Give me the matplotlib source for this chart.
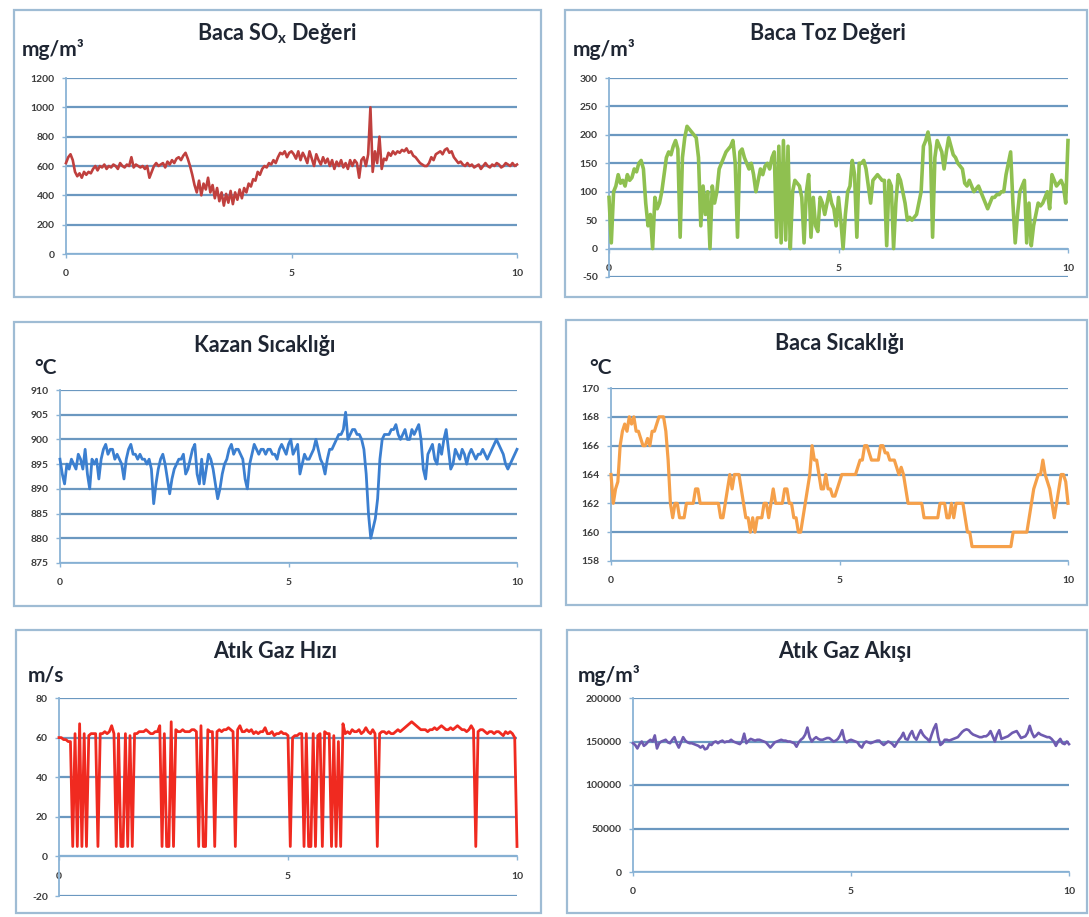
import numpy as np
import matplotlib
matplotlib.use("Agg")
import matplotlib.pyplot as plt
from matplotlib.patches import Rectangle

plt.rcParams["font.family"] = ["Lato", "DejaVu Sans"]
plt.rcParams["axes.unicode_minus"] = False
plt.rcParams["mathtext.fontset"] = "custom"
plt.rcParams["mathtext.bf"] = "Lato:bold"
plt.rcParams["mathtext.rm"] = "Lato"

# --- data (one value every 0.05 on the 0..10 axis) ---
sox_values = [
    620, 660, 680, 640, 560, 530, 550, 520, 560, 540, 560, 550, 580, 600, 570, 600, 590, 610, 580, 600,
    590, 610, 600, 580, 620, 600, 590, 610, 600, 660, 590, 610, 600, 590, 600, 580, 600, 520, 560, 600,
    620, 600, 610, 620, 590, 630, 610, 640, 620, 650, 660, 640, 670, 690, 650, 600, 540, 470, 420, 500,
    400, 480, 440, 520, 420, 470, 380, 450, 360, 420, 330, 410, 350, 430, 340, 420, 370, 440, 380, 450,
    420, 480, 460, 510, 500, 560, 540, 580, 600, 590, 620, 610, 640, 620, 660, 690, 680, 700, 660, 690,
    700, 680, 650, 700, 640, 690, 660, 620, 700, 650, 600, 680, 640, 610, 660, 620, 650, 600, 640, 580,
    630, 600, 640, 590, 620, 580, 640, 600, 640, 620, 520, 640, 660, 600, 680, 1000, 560, 700, 620, 800,
    580, 650, 640, 690, 670, 700, 680, 700, 690, 710, 700, 720, 690, 700, 670, 660, 640, 620, 610, 600,
    600, 620, 660, 640, 680, 690, 700, 680, 710, 720, 690, 700, 660, 640, 620, 630, 610, 600, 620, 600,
    610, 590, 600, 610, 580, 600, 620, 600, 590, 610, 600, 620, 610, 590, 600, 620, 610, 600, 620, 600,
    610,
]

toz_values = [
    90, 10, 100, 110, 130, 115, 120, 110, 130, 120, 125, 140, 135, 150, 155, 140, 80, 40, 60, 0,
    90, 70, 80, 100, 130, 160, 170, 165, 180, 190, 175, 20, 160, 195, 215, 210, 205, 200, 195, 160,
    40, 110, 60, 100, 0, 110, 80, 100, 140, 150, 160, 170, 175, 180, 190, 150, 20, 170, 175, 160,
    150, 140, 150, 130, 100, 120, 140, 130, 145, 150, 140, 160, 170, 20, 180, 10, 190, 15, 180, 0,
    100, 120, 115, 110, 90, 10, 100, 130, 20, 90, 40, 30, 90, 80, 60, 80, 100, 80, 70, 40,
    90, 50, 0, 60, 100, 110, 155, 130, 20, 150, 150, 155, 140, 110, 80, 120, 125, 130, 125, 120,
    120, 5, 120, 110, 0, 80, 130, 120, 100, 80, 50, 55, 50, 55, 60, 80, 100, 180, 190, 205,
    180, 20, 160, 190, 180, 170, 140, 170, 195, 180, 165, 160, 150, 145, 140, 115, 110, 120, 110, 100,
    105, 110, 100, 90, 80, 70, 80, 90, 90, 95, 95, 100, 100, 130, 150, 170, 80, 10, 60, 100,
    110, 120, 10, 80, 5, 40, 60, 80, 75, 80, 90, 100, 70, 130, 120, 110, 115, 120, 110, 80,
    190,
]

kazan_values = [
    896, 893, 891, 895, 894, 896, 895, 894, 897, 896, 894, 898, 893, 890, 896, 895, 896, 892, 896, 898,
    899, 897, 898, 898, 896, 897, 896, 895, 892, 896, 898, 899, 897, 897, 896, 897, 896, 896, 895, 896,
    894, 887, 891, 894, 896, 897, 895, 892, 889, 892, 894, 895, 896, 896, 897, 893, 894, 896, 898, 899,
    893, 891, 896, 891, 894, 897, 896, 894, 891, 888, 890, 893, 895, 896, 898, 899, 897, 898, 898, 897,
    896, 892, 890, 895, 897, 899, 898, 897, 898, 898, 897, 898, 898, 897, 897, 896, 898, 899, 898, 897,
    899, 900, 897, 898, 899, 893, 895, 897, 896, 896, 897, 898, 900, 898, 896, 895, 893, 896, 898, 898,
    899, 900, 901, 901, 902, 905.5, 900, 901, 902, 902, 901, 901, 900, 898, 893, 885, 880, 882, 884, 888,
    896, 900, 901, 901, 901, 902, 902, 903, 901, 900, 901, 902, 900, 900, 902, 901, 902, 903, 900, 894,
    892, 897, 898, 899, 896, 895, 899, 897, 900, 902, 898, 894, 895, 898, 897, 896, 898, 897, 895, 897,
    898, 897, 896, 897, 897, 898, 897, 896, 897, 898, 899, 900, 899, 898, 897, 895, 894, 895, 896, 897,
    898,
]

baca_sicaklik_values = [
    164, 162, 163, 163.5, 166, 167, 167.5, 167, 168, 167.5, 168, 167, 167, 166.5, 166, 166, 166.5, 166, 167, 167,
    167.5, 168, 168, 168, 167, 165, 162, 161, 162, 162, 161, 161, 161, 162, 162, 162, 162, 163, 163, 162,
    162, 162, 162, 162, 162, 162, 162, 162, 161, 161, 162, 163, 164, 163, 164, 164, 164, 163, 162, 161,
    161, 160, 161, 160, 161, 161, 161, 162, 162, 161, 162, 163, 162, 162, 162, 162, 163, 163, 162, 162,
    161, 161, 160, 160, 161, 162, 163, 164, 166, 165, 165, 164, 163, 163, 164, 163, 163, 162.5, 162.5, 163,
    163.5, 164, 164, 164, 164, 164, 164, 164, 164.5, 165, 165, 166, 166, 165.5, 165, 165, 165, 165, 166, 166,
    165.5, 165.5, 165, 165, 165, 164.5, 164, 164.5, 164, 163, 162, 162, 162, 162, 162, 162, 162, 161, 161, 161,
    161, 161, 161, 161, 162, 162, 162, 161, 161, 162, 161, 162, 162, 162, 162, 161, 160, 160, 159, 159,
    159, 159, 159, 159, 159, 159, 159, 159, 159, 159, 159, 159, 159, 159, 159, 159, 160, 160, 160, 160,
    160, 160, 160, 161, 162, 163, 163.5, 164, 164, 165, 164, 163.5, 163, 162, 161, 162, 163, 164, 164, 163.5,
    162,
]

gaz_hiz_values = [
    60, 60, 59, 59, 58, 58, 5, 62, 5, 67, 5, 62, 5, 61, 62, 62, 62, 5, 62, 62,
    63, 62, 63, 66, 62, 5, 62, 5, 5, 62, 5, 61, 5, 62, 62, 63, 63, 63, 64, 63,
    62, 62, 63, 63, 66, 5, 62, 5, 5, 68, 5, 64, 63, 63, 64, 63, 63, 63, 64, 64,
    63, 5, 66, 5, 5, 64, 63, 63, 5, 63, 64, 63, 64, 64, 65, 64, 63, 5, 64, 66,
    63, 63, 64, 63, 64, 62, 63, 62, 63, 63, 65, 62, 62, 63, 61, 62, 62, 63, 62, 62,
    61, 5, 60, 61, 61, 62, 62, 5, 62, 5, 5, 62, 5, 61, 62, 5, 63, 62, 62, 5,
    61, 5, 58, 5, 67, 62, 63, 62, 64, 63, 63, 64, 62, 63, 65, 63, 62, 64, 62, 5,
    62, 63, 63, 62, 63, 62, 62, 63, 64, 63, 64, 65, 66, 67, 68, 67, 66, 65, 64, 64,
    64, 63, 64, 64, 65, 64, 65, 66, 65, 64, 64, 65, 64, 65, 66, 65, 64, 64, 63, 64,
    66, 64, 5, 63, 64, 64, 63, 62, 63, 63, 62, 63, 63, 62, 61, 63, 62, 63, 62, 60,
    5,
]

gaz_akis_values = [
    148000, 146000, 142000, 147000, 150000, 145000, 147000, 150000, 152000, 150000,
    157000, 142000, 148000, 150000, 151000, 152000, 149000, 148000, 152000, 155000,
    148000, 143000, 149000, 155000, 151000, 149000, 148000, 148000, 147000, 146000,
    145000, 143000, 145000, 141000, 142000, 147000, 146000, 149000, 150000, 148000,
    150000, 151000, 149000, 150000, 150000, 152000, 150000, 149000, 148000, 147000,
    150000, 159000, 148000, 151000, 153000, 152000, 151000, 152000, 152000, 151000,
    150000, 149000, 146000, 143000, 146000, 149000, 150000, 151000, 152000, 151000,
    151000, 150000, 150000, 149000, 148000, 144000, 149000, 152000, 154000, 158000,
    166000, 155000, 150000, 153000, 155000, 153000, 152000, 152000, 153000, 154000,
    154000, 152000, 150000, 151000, 153000, 157000, 163000, 152000, 149000, 151000,
    152000, 151000, 150000, 149000, 145000, 143000, 148000, 150000, 149000, 148000,
    149000, 150000, 151000, 151000, 148000, 146000, 148000, 150000, 149000, 147000,
    144000, 148000, 152000, 155000, 160000, 153000, 152000, 158000, 162000, 155000,
    152000, 158000, 163000, 158000, 155000, 153000, 150000, 158000, 165000, 170000,
    155000, 146000, 148000, 152000, 152000, 151000, 152000, 153000, 154000, 155000,
    158000, 161000, 163000, 164000, 163000, 160000, 158000, 157000, 156000, 155000,
    155000, 156000, 156000, 158000, 162000, 156000, 150000, 158000, 163000, 153000,
    154000, 155000, 156000, 158000, 160000, 161000, 162000, 158000, 154000, 155000,
    156000, 160000, 168000, 160000, 155000, 157000, 160000, 158000, 157000, 156000,
    155000, 155000, 153000, 150000, 145000, 150000, 153000, 148000, 147000, 150000,
    147000,
]

titles = [r"Baca SO$_\mathbf{x}$ Değeri", "Baca Toz Değeri", "Kazan Sıcaklığı",
          "Baca Sıcaklığı", "Atık Gaz Hızı", "Atık Gaz Akışı"]
units = ["mg/m³", "mg/m³", "°C", "°C", "m/s", "mg/m³"]
x_ticks = [0, 5, 10]
y_ticks = [
    list(range(0, 1201, 200)),
    list(range(-50, 301, 50)),
    list(range(875, 911, 5)),
    list(range(158, 171, 2)),
    list(range(-20, 81, 20)),
    list(range(0, 200001, 50000)),
]
series = [sox_values, toz_values, kazan_values, baca_sicaklik_values, gaz_hiz_values, gaz_akis_values]

# --- style / layout (pixel positions in the 1089x917 picture) ---
W, H = 1089, 917
line_colors = ["#c0403e", "#8fc050", "#3b7fd0", "#f5a04a", "#f02a20", "#6f5bb0"]
line_widths = [1.9, 2.6, 2.0, 2.3, 2.0, 1.9]
# x of value 0, x of value 10, y of top tick, y of bottom tick
plot_px = [
    (66, 517, 78, 254),
    (609, 1068, 78, 277),
    (60, 517, 390, 563),
    (611, 1068, 388, 561),
    (59, 517, 698, 896),
    (633, 1069, 698, 872),
]
box_px = [
    (14, 10, 541, 297),
    (565, 10, 1087, 297),
    (14, 322, 541, 606),
    (566, 320, 1087, 605),
    (16, 630, 541, 913),
    (567, 630, 1087, 913),
]
title_px = [(277, 33), (828, 33), (265, 345), (840, 343), (275, 652), (845, 651)]
unit_px = [(22, 50), (573, 50), (34, 368), (589, 368), (28, 676), (578, 676)]

grid_color = "#6b98c0"
axis_color = "#8ab3d6"
text_color = "#1f2633"
tick_color = "#3c3c3c"

fig = plt.figure(figsize=(W / 100, H / 100), dpi=100)
fig.patch.set_facecolor("white")

for i in range(6):
    bx0, by0, bx1, by1 = box_px[i]
    fig.patches.append(Rectangle((bx0 / W, 1 - by1 / H), (bx1 - bx0) / W, (by1 - by0) / H,
                                 transform=fig.transFigure, fill=False,
                                 edgecolor="#9fbcd4", linewidth=1.6))

    x0, x1, yt, yb = plot_px[i]
    ax = fig.add_axes([x0 / W, 1 - yb / H, (x1 - x0) / W, (yb - yt) / H])
    vals = series[i]
    xs = np.linspace(0, 10, len(vals))
    ax.plot(xs, vals, color=line_colors[i], linewidth=line_widths[i],
            solid_joinstyle="round", clip_on=False, zorder=3)

    yt_list = y_ticks[i]
    ax.set_xlim(0, 10)
    ax.set_ylim(yt_list[0], yt_list[-1])
    ax.set_xticks(x_ticks)
    ax.set_yticks(yt_list)
    ax.grid(axis="y", color=grid_color, linewidth=1.6)
    ax.set_axisbelow(True)
    ax.set_facecolor("none")

    for side in ["top", "right"]:
        ax.spines[side].set_visible(False)
    for side in ["left", "bottom"]:
        ax.spines[side].set_color(axis_color)
        ax.spines[side].set_linewidth(1.3)
    if yt_list[0] < 0:
        ax.spines["bottom"].set_position(("data", 0))

    ax.tick_params(axis="both", direction="out", length=3, width=1, color=axis_color,
                   labelsize=7.5, labelcolor=tick_color)
    ax.tick_params(axis="x", pad=8)
    ax.tick_params(axis="y", pad=5)
    for lab in ax.get_xticklabels() + ax.get_yticklabels():
        lab.set_fontweight("bold")

    tx, ty = title_px[i]
    fig.text(tx / W, 1 - ty / H, titles[i], ha="center", va="center",
             fontsize=15.5, fontweight="bold", color=text_color)
    ux, uy = unit_px[i]
    fig.text(ux / W, 1 - uy / H, units[i], ha="left", va="center",
             fontsize=15, fontweight="bold", color=text_color)

fig.savefig("out.png", dpi=100, facecolor="white")
